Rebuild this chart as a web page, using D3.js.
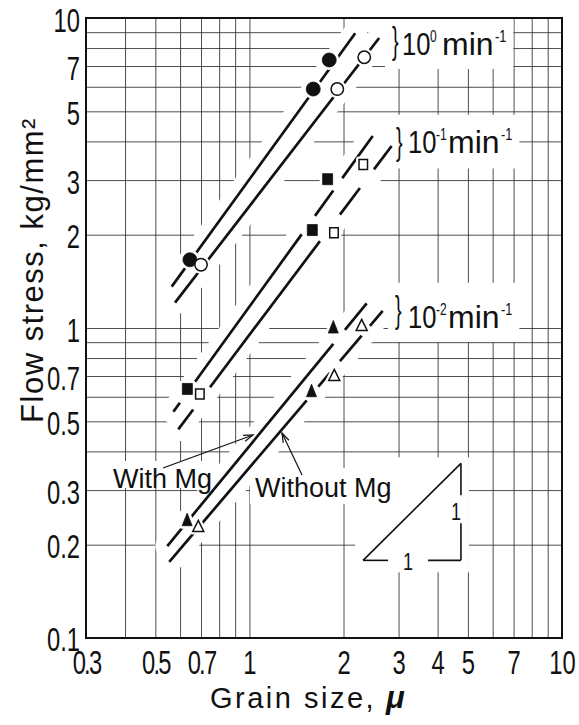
<!DOCTYPE html>
<html><head><meta charset="utf-8">
<script src="https://cdn.jsdelivr.net/npm/d3@7"></script>
<style>body{margin:0;background:#fff} svg{display:block}</style>
</head><body>
<svg id="chart" width="579" height="725"></svg>
<script>
// ---------- data ----------
const xTickValues = [0.3, 0.5, 0.7, 1, 2, 3, 4, 5, 7, 10];
const xTickLabels = ["0.3", "0.5", "0.7", "1", "2", "3", "4", "5", "7", "10"];
const yTickValues = [0.1, 0.2, 0.3, 0.5, 0.7, 1, 2, 3, 5, 7, 10];
const yTickLabels = ["0.1", "0.2", "0.3", "0.5", "0.7", "1", "2", "3", "5", "7", "10"];
const xGrid = [0.4, 0.5, 0.6, 0.7, 0.8, 0.9, 1, 2, 3, 4, 5, 6, 7, 8, 9];
const yGrid = [0.2, 0.3, 0.4, 0.5, 0.6, 0.7, 0.8, 0.9, 1, 2, 3, 4, 5, 6, 7, 8, 9];

const rateExponents = ["0", "-1", "-2"];

// strain rate 10^0 min^-1
const pts_r0_withMg = [[0.645, 1.66], [1.60, 5.90], [1.80, 7.32]];
const pts_r0_noMg   = [[0.70, 1.60], [1.91, 5.90], [2.33, 7.47]];
const fit_r0_withMg = [[0.564, 1.36], [2.18, 8.93]];
const fit_r0_noMg   = [[0.578, 1.207], [2.60, 8.62]];
const seg_r0_withMg = [[0.564, 2.18]];
const seg_r0_noMg   = [[0.578, 2.60]];

// strain rate 10^-1 min^-1
const pts_r1_withMg = [[0.633, 0.636], [1.589, 2.07], [1.779, 3.02]];
const pts_r1_noMg   = [[0.694, 0.612], [1.864, 2.03], [2.313, 3.37]];
const fit_r1_withMg = [[0.571, 0.537], [2.48, 4.16]];
const fit_r1_noMg   = [[0.592, 0.471], [2.85, 3.865]];
const seg_r1_withMg = [[0.571, 0.599], [0.670, 1.469], [1.621, 1.855], [1.982, 2.48]];
const seg_r1_noMg   = [[0.592, 0.661], [0.748, 1.681], [1.948, 2.257], [2.503, 2.85]];

// strain rate 10^-2 min^-1
const pts_r2_withMg = [[0.632, 0.239], [1.58, 0.623], [1.855, 1.0]];
const pts_r2_noMg   = [[0.686, 0.228], [1.868, 0.70], [2.286, 1.015]];
const fit_r2_withMg = [[0.546, 0.198], [2.372, 1.201]];
const fit_r2_noMg   = [[0.554, 0.176], [2.669, 1.135]];
const seg_r2_withMg = [[0.546, 1.855], [2.021, 2.372]];
const seg_r2_noMg   = [[0.554, 1.525], [1.661, 1.810], [1.948, 2.286], [2.43, 2.669]];

// slope-1 reference triangle (data units)
const triX = [2.31, 4.75];
const triY0 = 0.178;

const series = [
  {pts: pts_r0_withMg, fit: fit_r0_withMg, seg: seg_r0_withMg, shape: "circle", filled: true},
  {pts: pts_r0_noMg,   fit: fit_r0_noMg,   seg: seg_r0_noMg,   shape: "circle", filled: false},
  {pts: pts_r1_withMg, fit: fit_r1_withMg, seg: seg_r1_withMg, shape: "square", filled: true},
  {pts: pts_r1_noMg,   fit: fit_r1_noMg,   seg: seg_r1_noMg,   shape: "square", filled: false},
  {pts: pts_r2_withMg, fit: fit_r2_withMg, seg: seg_r2_withMg, shape: "triangle", filled: true},
  {pts: pts_r2_noMg,   fit: fit_r2_noMg,   seg: seg_r2_noMg,   shape: "triangle", filled: false}
];

// ---------- layout ----------
const FONT = "'Liberation Sans', Arial, Helvetica, sans-serif";
const INK = "#111";
const svg = d3.select("#chart");
const x = d3.scaleLog().domain([0.3, 10]).range([86, 562]);
const y = d3.scaleLog().domain([0.1, 10]).range([638, 18]);
const plotW = x(10) - x(0.3), plotH = y(0.1) - y(10);

const gGrid = svg.append("g");
const gMask = svg.append("g");
const gLines = svg.append("g");
const gHalo = svg.append("g");
const gMarks = svg.append("g");
const gAnno = svg.append("g");

// gridlines via axes
gGrid.append("g").attr("transform", `translate(0,${y(0.1)})`)
  .call(d3.axisBottom(x).tickValues(xGrid).tickSize(-plotH).tickFormat(""))
  .call(g => g.select(".domain").remove())
  .selectAll("line").attr("stroke", "#3a3a3a").attr("stroke-width", 0.9);
gGrid.append("g").attr("transform", `translate(${x(0.3)},0)`)
  .call(d3.axisLeft(y).tickValues(yGrid).tickSize(-plotW).tickFormat(""))
  .call(g => g.select(".domain").remove())
  .selectAll("line").attr("stroke", "#3a3a3a").attr("stroke-width", 0.9);

// tick labels via axes
const xAxisG = svg.append("g").attr("transform", `translate(0,${y(0.1)})`)
  .call(d3.axisBottom(x).tickValues(xTickValues).tickSize(0).tickPadding(0)
    .tickFormat(d => xTickLabels[xTickValues.indexOf(d)]));
xAxisG.select(".domain").remove();
xAxisG.selectAll("text")
  .attr("font-family", FONT).attr("font-size", 33).attr("fill", INK)
  .attr("y", 36).attr("dy", 0).attr("transform", "scale(0.72,1)")
  .attr("letter-spacing", d => d < 1 ? -2.5 : 0);

const yAxisG = svg.append("g").attr("transform", `translate(80,0)`)
  .call(d3.axisLeft(y).tickValues(yTickValues).tickSize(0).tickPadding(0)
    .tickFormat(d => yTickLabels[yTickValues.indexOf(d)]));
yAxisG.select(".domain").remove();
yAxisG.selectAll("text")
  .attr("font-family", FONT).attr("font-size", 33).attr("fill", INK)
  .attr("x", 0).attr("y", d => d === 0.1 ? 12 : 13).attr("dy", 0).attr("transform", "scale(0.72,1)");

// axis titles
const xt = svg.append("text").attr("x", 210).attr("y", 708)
  .attr("font-family", FONT).attr("font-size", 29).attr("letter-spacing", 2.5).attr("fill", INK);
xt.append("tspan").text("Grain size,");
xt.append("tspan").attr("dx", 10).attr("font-weight", "bold").attr("font-style", "italic")
  .attr("font-size", 31).attr("letter-spacing", 0).text("μ");

svg.append("text").attr("transform", "translate(43,270) rotate(-90)")
  .attr("text-anchor", "middle").attr("font-family", FONT).attr("font-size", 31)
  .attr("letter-spacing", 1.5).attr("fill", INK)
  .text("Flow stress, kg/mm²");

// ---------- fitted lines ----------
function fitY(fit, xv) {
  const [[xa, ya], [xb, yb]] = fit;
  const k = Math.log(yb / ya) / Math.log(xb / xa);
  return ya * Math.pow(xv / xa, k);
}
// white bands that interrupt the grid along the lines
series.forEach(s => {
  gMask.append("line")
    .attr("x1", x(s.fit[0][0])).attr("y1", y(s.fit[0][1]))
    .attr("x2", x(s.fit[1][0])).attr("y2", y(s.fit[1][1]))
    .attr("stroke", "#fff").attr("stroke-width", 24).attr("stroke-linecap", "round");
});
series.forEach(s => {
  gLines.selectAll(null).data(s.seg).join("line")
    .attr("x1", d => x(d[0])).attr("y1", d => y(fitY(s.fit, d[0])))
    .attr("x2", d => x(d[1])).attr("y2", d => y(fitY(s.fit, d[1])))
    .attr("stroke", INK).attr("stroke-width", 2.7).attr("stroke-linecap", "butt");
});

// ---------- markers ----------
function shapePath(shape, filled, cx, cy) {
  if (shape === "circle") {
    const r = filled ? 7 : 6.2;
    return `M${cx - r},${cy}a${r},${r} 0 1,0 ${2 * r},0a${r},${r} 0 1,0 ${-2 * r},0Z`;
  }
  if (shape === "square") {
    const w = filled ? 10 : 8.5, h = filled ? 11 : 10;
    return `M${cx - w / 2},${cy - h / 2}h${w}v${h}h${-w}Z`;
  }
  const w = filled ? 10 : 11, h = filled ? 12.5 : 11;
  return `M${cx},${cy - h * 0.6}L${cx + w / 2},${cy + h * 0.4}L${cx - w / 2},${cy + h * 0.4}Z`;
}
series.forEach(s => {
  gHalo.selectAll(null).data(s.pts).join("path")
    .attr("d", d => shapePath(s.shape, s.filled, x(d[0]), y(d[1])))
    .attr("fill", "#fff").attr("stroke", "#fff").attr("stroke-width", 6).attr("stroke-linejoin", "round");
  gMarks.selectAll(null).data(s.pts).join("path")
    .attr("d", d => shapePath(s.shape, s.filled, x(d[0]), y(d[1])))
    .attr("fill", s.filled ? INK : "#fff")
    .attr("stroke", INK).attr("stroke-width", s.filled ? 0.8 : 1.5);
});

// ---------- annotations ----------
function maskBehind(node, pad, cutBottom) {
  const b = node.getBBox();
  gMask.append("rect")
    .attr("x", b.x - pad).attr("y", b.y - pad)
    .attr("width", b.width + 2 * pad).attr("height", b.height + 2 * pad - (cutBottom || 0))
    .attr("fill", "#fff");
}

// rate labels  }10^n min^-1
const rateLayout = [
  {brace: [392, 53], text: [402, 55]},
  {brace: [396, 154], text: [408, 153]},
  {brace: [395, 322], text: [408, 328]}
];
rateExponents.forEach((e, i) => {
  const L = rateLayout[i];
  const g = gAnno.append("g");
  g.append("text").attr("transform", `translate(${L.brace[0]},${L.brace[1]}) scale(0.55,1)`)
    .attr("font-family", FONT).attr("font-size", 36).attr("font-weight", 300).attr("fill", INK).text("}");
  const tx = L.text[0], ty = L.text[1];
  g.append("text").attr("transform", `translate(${tx},${ty}) scale(0.8,1)`)
    .attr("font-family", FONT).attr("font-size", 32).attr("fill", INK).text("10");
  g.append("text").attr("transform", `translate(${tx + 28},${ty - 13}) scale(0.75,1)`)
    .attr("font-family", FONT).attr("font-size", 16).attr("fill", INK).text(e);
  g.append("text").attr("x", tx + 40).attr("y", ty)
    .attr("font-family", FONT).attr("font-size", 32).attr("fill", INK).text("min");
  g.append("text").attr("transform", `translate(${tx + 93},${ty - 13}) scale(0.8,1)`)
    .attr("font-family", FONT).attr("font-size", 16).attr("fill", INK).text("-1");
  maskBehind(g.node(), 7);
});

// With Mg / Without Mg
const lblWith = gAnno.append("text").attr("x", 113).attr("y", 488)
  .attr("font-family", FONT).attr("font-size", 27).attr("fill", INK).text("With Mg");
const lblWithout = gAnno.append("text").attr("x", 255).attr("y", 497)
  .attr("font-family", FONT).attr("font-size", 27).attr("fill", INK).text("Without Mg");
maskBehind(lblWith.node(), 3, 9);
maskBehind(lblWithout.node(), 5, 4);

function arrow(x1, y1, x2, y2) {
  const a = Math.atan2(y2 - y1, x2 - x1), L = 10, sp = 0.32;
  gAnno.append("line").attr("x1", x1).attr("y1", y1).attr("x2", x2).attr("y2", y2)
    .attr("stroke", INK).attr("stroke-width", 1.2);
  gAnno.append("path")
    .attr("d", `M${x2 - L * Math.cos(a - sp)},${y2 - L * Math.sin(a - sp)}L${x2},${y2}L${x2 - L * Math.cos(a + sp)},${y2 - L * Math.sin(a + sp)}`)
    .attr("fill", "none").attr("stroke", INK).attr("stroke-width", 1.2);
}
arrow(163, 468, 253, 435);
arrow(302, 475, 282, 433);

// slope triangle
const tx0 = x(triX[0]), tx1 = x(triX[1]);
const ty0 = y(triY0), ty1 = y(triY0 * triX[1] / triX[0]);
gMask.append("rect").attr("x", tx0 - 8).attr("y", ty1 - 6).attr("width", tx1 - tx0 + 16)
  .attr("height", ty0 - ty1 + 18).attr("fill", "#fff");
const tri = gAnno.append("g").attr("stroke", INK).attr("stroke-width", 1.6).attr("fill", "none");
tri.append("line").attr("x1", tx0).attr("y1", ty0).attr("x2", tx1).attr("y2", ty1);
tri.append("line").attr("x1", tx1).attr("y1", ty1).attr("x2", tx1).attr("y2", ty1 + 32);
tri.append("line").attr("x1", tx1).attr("y1", ty1 + 60).attr("x2", tx1).attr("y2", ty0);
tri.append("line").attr("x1", tx0).attr("y1", ty0).attr("x2", tx0 + 25).attr("y2", ty0);
tri.append("line").attr("x1", tx0 + 65).attr("y1", ty0).attr("x2", tx1).attr("y2", ty0);
gAnno.append("text").attr("transform", `translate(${tx1 - 5},${ty1 + 57}) scale(0.75,1)`)
  .attr("text-anchor", "middle").attr("font-family", FONT).attr("font-size", 24).attr("fill", INK).text("1");
gAnno.append("text").attr("transform", `translate(${tx0 + 45},${ty0 + 10}) scale(0.75,1)`)
  .attr("text-anchor", "middle").attr("font-family", FONT).attr("font-size", 24).attr("fill", INK).text("1");

// frame
svg.append("rect").attr("x", x(0.3)).attr("y", y(10)).attr("width", plotW).attr("height", plotH)
  .attr("fill", "none").attr("stroke", INK).attr("stroke-width", 2);
</script>
</body></html>
